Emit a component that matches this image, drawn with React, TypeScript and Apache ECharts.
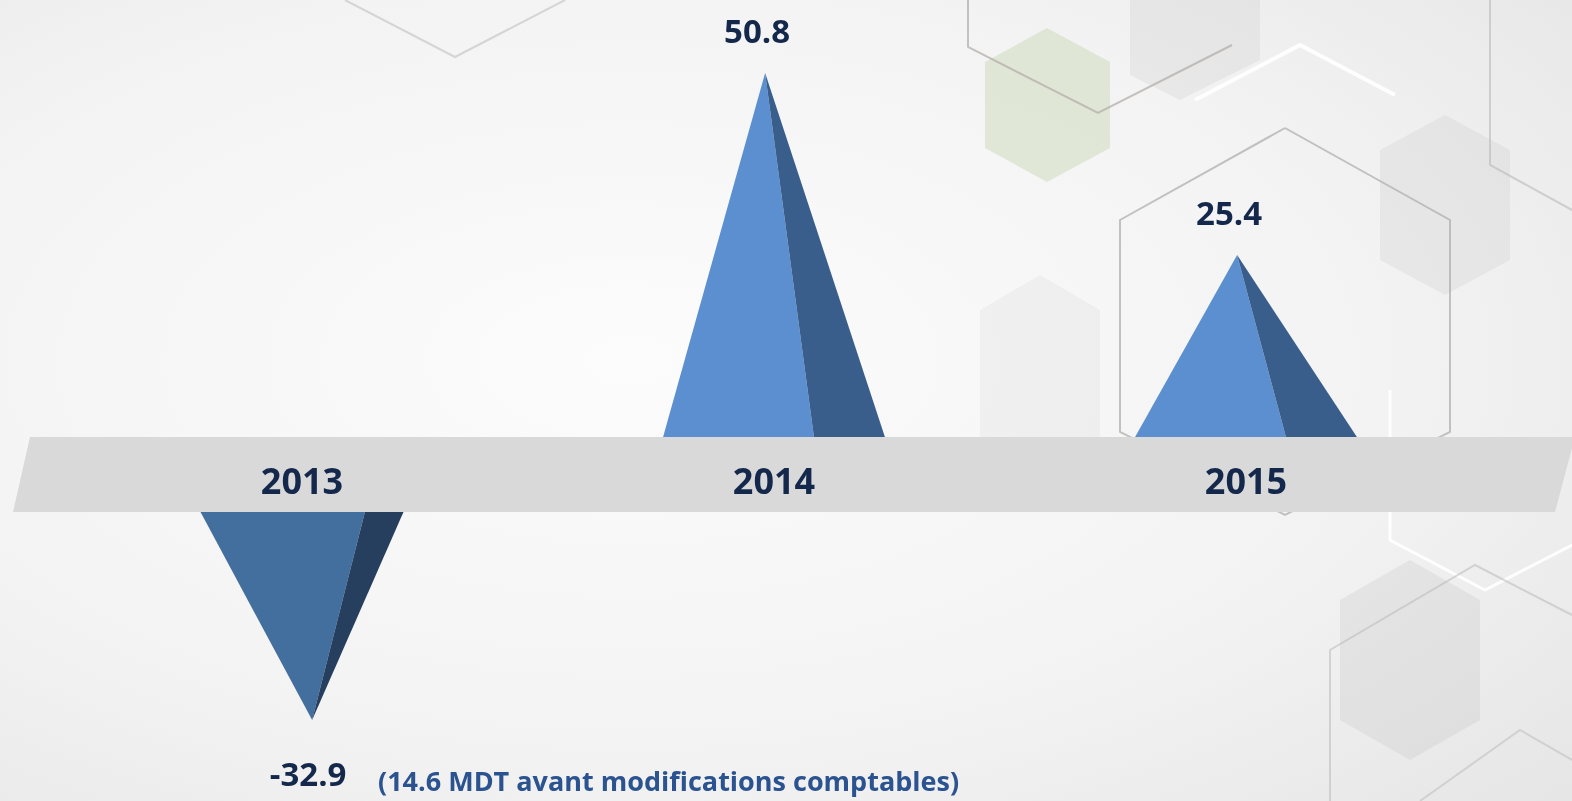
import React, { useEffect, useRef } from "react";
import * as echarts from "echarts";

// ---- data ----
const years: string[] = ["2013", "2014", "2015"];
const values: number[] = [-32.9, 50.8, 25.4];
const note = "(14.6 MDT avant modifications comptables)";

// ---- styling / layout constants ----
const W = 1572;
const H = 801;
const BAND_TOP = 437;
const BAND_BOTTOM = 512;
const GRID_LEFT = 66;
const GRID_RIGHT = 90;
const POS_MAX = 60;
const NEG_MIN = -40;
const TEXT_DARK = "#14284b";
const FONT = '"Open Sans", "Noto Sans", sans-serif';

const hexOutline = (pts: number[][], stroke: string, lw = 2) => ({
  type: "polyline",
  silent: true,
  z: -10,
  shape: { points: pts },
  style: { fill: null, stroke, lineWidth: lw },
});
const hexFill = (pts: number[][], fill: string) => ({
  type: "polygon",
  silent: true,
  z: -11,
  shape: { points: pts },
  style: { fill },
});

function makeRender(light: string, dark: string) {
  return (params: any, api: any) => {
    const idx = api.value(0);
    const v = api.value(1);
    const base = api.coord([idx, 0]);
    const top = api.coord([idx, v]);
    const band = api.size([1, 0])[0];
    const pos = v >= 0;
    const w = band * (pos ? 0.47 : 0.43);
    const x0 = base[0] - w / 2;
    const x1 = base[0] + w / 2;
    const apexX = x0 + w * (pos ? 0.46 : 0.55);
    const splitX = x0 + w * (pos ? 0.68 : 0.81);
    const apex = [apexX, top[1]];
    return {
      type: "group",
      children: [
        {
          type: "polygon",
          shape: { points: [[x0, base[1]], [splitX, base[1]], apex] },
          style: { fill: light },
        },
        {
          type: "polygon",
          shape: { points: [[splitX, base[1]], [x1, base[1]], apex] },
          style: { fill: dark },
        },
        {
          type: "text",
          x: apexX + (pos ? -8 : -4),
          y: top[1] + (pos ? -42 : 53),
          style: {
            text: String(v),
            fill: TEXT_DARK,
            font: `bold 33px ${FONT}`,
            align: "center",
            verticalAlign: "middle",
          },
        },
      ],
    };
  };
}

export default function App() {
  const ref = useRef<HTMLDivElement>(null);

  useEffect(() => {
    if (!ref.current) return;
    const chart = echarts.init(ref.current, undefined, { renderer: "svg" });

    const posData = values
      .map((v, i) => [i, v])
      .filter((d) => d[1] >= 0);
    const negData = values
      .map((v, i) => [i, v])
      .filter((d) => d[1] < 0);

    const option: any = {
      animation: false,
      backgroundColor: {
        type: "radial",
        x: 0.4,
        y: 0.45,
        r: 0.8,
        colorStops: [
          { offset: 0, color: "#fcfcfc" },
          { offset: 0.6, color: "#f3f3f3" },
          { offset: 1, color: "#e6e6e6" },
        ],
      },
      graphic: [
        // decorative hexagons
        hexFill(
          [[1047, 28], [1110, 62], [1110, 148], [1047, 182], [985, 148], [985, 62]],
          "rgba(205,218,190,0.55)"
        ),
        hexFill(
          [[1180, 0], [1260, 0], [1260, 60], [1180, 100], [1130, 75], [1130, 0]],
          "rgba(200,200,200,0.25)"
        ),
        hexFill(
          [[1445, 115], [1510, 150], [1510, 260], [1445, 295], [1380, 260], [1380, 150]],
          "rgba(190,190,190,0.2)"
        ),
        hexFill(
          [[1410, 560], [1480, 600], [1480, 720], [1410, 760], [1340, 720], [1340, 600]],
          "rgba(190,190,190,0.25)"
        ),
        hexFill(
          [[1040, 275], [1100, 310], [1100, 440], [1040, 475], [980, 440], [980, 310]],
          "rgba(200,200,200,0.16)"
        ),
        hexOutline([[345, 0], [455, 57], [565, 0]], "rgba(200,200,200,0.7)"),
        hexOutline([[968, 0], [968, 47], [1098, 113], [1232, 45]], "rgba(175,170,165,0.7)"),
        hexOutline(
          [[1285, 128], [1450, 220], [1450, 432], [1285, 515], [1120, 432], [1120, 220], [1285, 128]],
          "rgba(175,175,175,0.75)"
        ),
        hexOutline([[1195, 100], [1300, 45], [1395, 95]], "rgba(255,255,255,0.9)", 4),
        hexOutline([[1490, 0], [1490, 165], [1572, 210]], "rgba(185,185,185,0.6)"),
        hexOutline([[1390, 390], [1390, 540], [1485, 590], [1572, 545]], "rgba(255,255,255,0.9)", 3),
        hexOutline([[1330, 801], [1330, 650], [1475, 565], [1572, 615]], "rgba(185,185,185,0.55)"),
        hexOutline([[1420, 801], [1520, 730], [1572, 760]], "rgba(185,185,185,0.5)"),
        // grey band
        {
          type: "polygon",
          silent: true,
          z: -5,
          shape: {
            points: [
              [30, BAND_TOP],
              [1575, BAND_TOP],
              [1555, BAND_BOTTOM],
              [13, BAND_BOTTOM],
            ],
          },
          style: { fill: "#d9d9d9" },
        },
        {
          type: "text",
          x: 378,
          y: 780,
          style: {
            text: note,
            fill: "#2b5390",
            font: `bold 27px ${FONT}`,
            align: "left",
            verticalAlign: "middle",
          },
        },
      ],
      grid: [
        {
          left: GRID_LEFT,
          right: GRID_RIGHT,
          top: BAND_TOP - 430,
          bottom: H - BAND_TOP,
        },
        {
          left: GRID_LEFT,
          right: GRID_RIGHT,
          top: BAND_BOTTOM,
          bottom: H - BAND_BOTTOM - 253,
        },
      ],
      xAxis: [
        {
          type: "category",
          gridIndex: 0,
          data: years,
          z: 10,
          axisLine: { show: false },
          axisTick: { show: false },
          axisLabel: {
            show: true,
            margin: 43,
            verticalAlign: "middle",
            color: TEXT_DARK,
            fontSize: 36,
            fontWeight: "bold",
            fontFamily: FONT,
          },
        },
        {
          type: "category",
          gridIndex: 1,
          data: years,
          axisLine: { show: false },
          axisTick: { show: false },
          axisLabel: { show: false },
        },
      ],
      yAxis: [
        {
          type: "value",
          gridIndex: 0,
          min: 0,
          max: POS_MAX,
          show: false,
          splitLine: { show: false },
        },
        {
          type: "value",
          gridIndex: 1,
          min: NEG_MIN,
          max: 0,
          show: false,
          splitLine: { show: false },
        },
      ],
      series: [
        {
          type: "custom",
          xAxisIndex: 0,
          yAxisIndex: 0,
          data: posData,
          renderItem: makeRender("#5b8fcf", "#3a5e8b"),
          z: 3,
        },
        {
          type: "custom",
          xAxisIndex: 1,
          yAxisIndex: 1,
          data: negData,
          renderItem: makeRender("#436f9f", "#263f5f"),
          z: 3,
        },
      ],
    };

    chart.setOption(option);
    return () => chart.dispose();
  }, []);

  return (
    <div
      ref={ref}
      style={{ position: "fixed", left: 0, top: 0, width: W, height: H }}
    />
  );
}
